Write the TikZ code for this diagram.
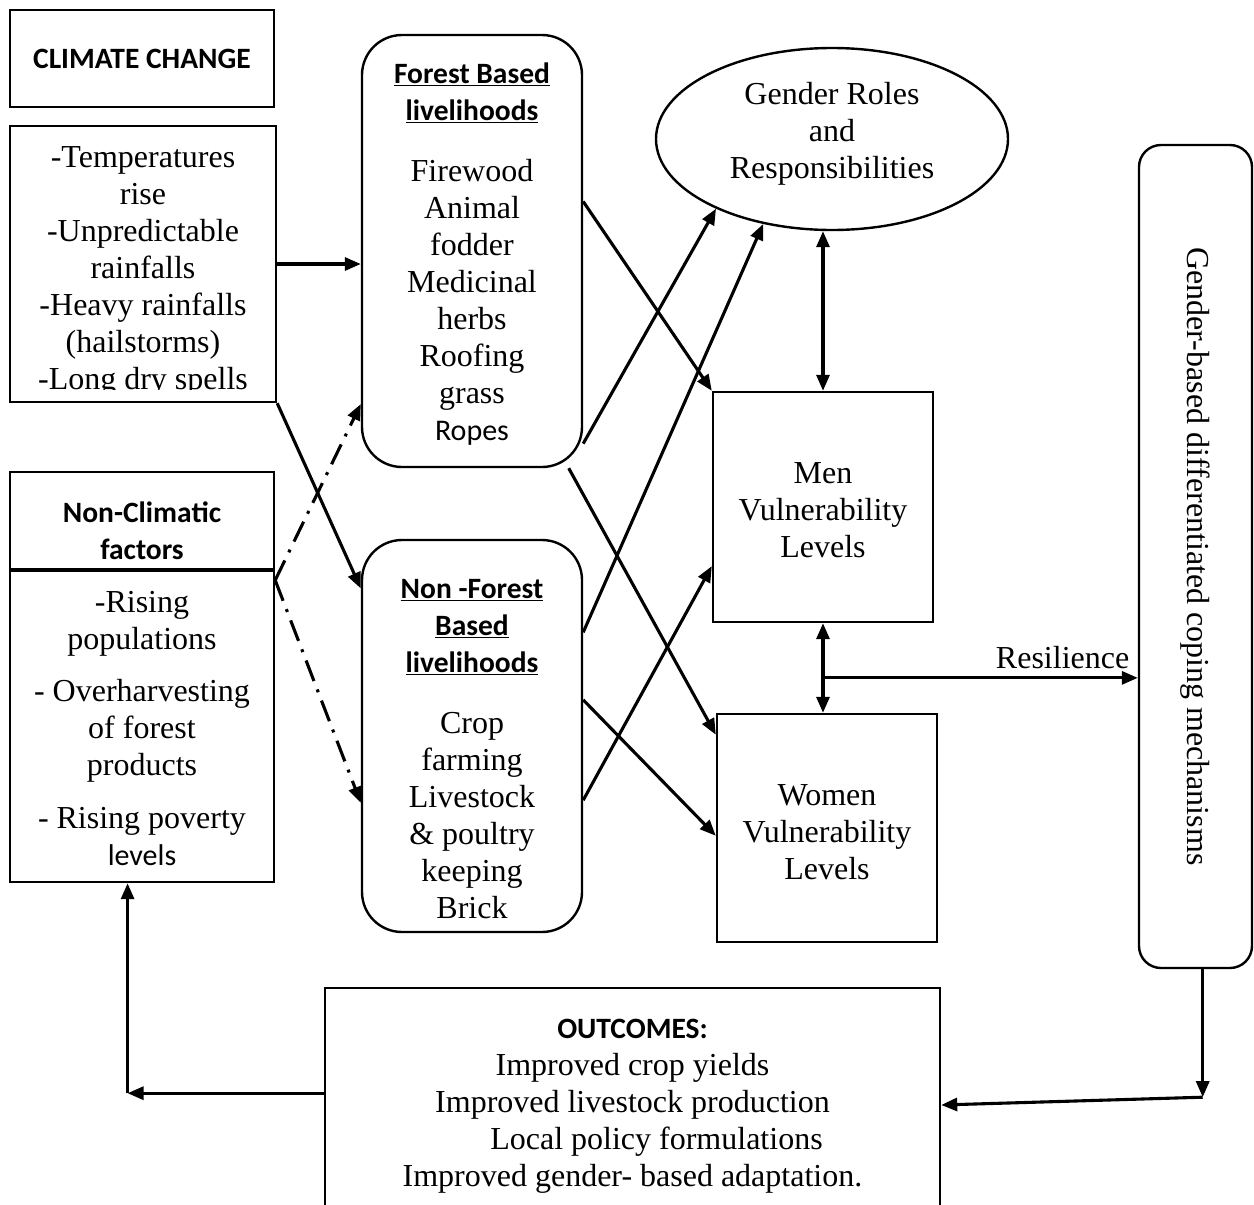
\documentclass[tikz,border=0pt]{standalone}
\usepackage{fontspec}
\setmainfont{Liberation Serif}
\newfontfamily\calfont{Carlito}
\usepackage{graphicx}
\usetikzlibrary{arrows.meta,shapes.geometric}
\newcommand\bodysize{\fontsize{32}{37}\selectfont}
\newcommand\headfont{\calfont\bfseries\fontsize{29.5}{37}\selectfont}
\newcommand\calsize{\calfont\fontsize{30}{37}\selectfont}
\tikzset{
  plainbox/.style={rectangle,draw,line width=2.4pt,inner sep=0pt},
  roundbox/.style={plainbox,rounded corners=40pt},
  boxtext/.style={align=center,font=\bodysize,inner sep=0pt},
  flow/.style={-{Triangle[length=16pt,width=13pt]},line width=3.1pt},
  flowboth/.style={{Triangle[length=16pt,width=13pt]}-{Triangle[length=16pt,width=13pt]},line width=3.1pt},
  dashflow/.style={flow,dash pattern=on 22pt off 9pt on 3pt off 9pt},
  divider/.style={line width=3.8pt}
}

\begin{document}
\begin{tikzpicture}[
  x=1pt,y=-1pt,
  roleellipse/.style={ellipse,draw,line width=2.4pt,inner sep=0pt,
    minimum width=352pt,minimum height=182pt},
  levelbox/.style={plainbox,minimum width=220pt},
  copingbox/.style={plainbox,rounded corners=22pt,minimum width=113pt,minimum height=823pt},
  reslabel/.style={font=\bodysize,inner sep=3pt,xshift=-4pt,yshift=5pt}
]
\useasboundingbox (0,0) rectangle (1254,1205);

% 1. Clima y factores no climaticos
\node[plainbox,minimum width=264pt,minimum height=97pt] (clim) at (142,58.5) {};
\node[boxtext] (climtext) at (clim.center) {\headfont CLIMATE CHANGE};

\node[plainbox,minimum width=266pt,minimum height=276pt] (cfac) at (143,264) {};
\begin{scope}
  \clip (cfac.north west) rectangle (cfac.east |- 0,389);
  \node[boxtext] (cfactext) at ([yshift=-7pt]cfac.center)
    {-Temperatures\\rise\\-Unpredictable\\rainfalls\\-Heavy rainfalls\\(hailstorms)\\-Long dry spells};
\end{scope}

\node[plainbox,minimum width=264pt,minimum height=410pt] (ncf) at (142,677) {};
\node[boxtext] (ncftext) at ([yshift=-7pt]ncf.center)
  {{\headfont Non-Climatic}\\{\headfont factors}\\[16pt]-Rising\\populations\\[15pt]%
   - Overharvesting\\of forest\\products\\[16pt]- Rising poverty\\{\calsize levels}};
\draw[divider] (ncf.west |- 0,570) -- (ncf.east |- 0,570);

% 2. Medios de vida
\node[roundbox,minimum width=220pt,minimum height=432pt] (fbl) at (472,251) {};
\node[boxtext] (fbltext) at ([yshift=-3pt]fbl.center)
  {{\headfont\underline{Forest Based}}\\{\headfont\underline{livelihoods}}\\[24pt]%
   Firewood\\Animal\\fodder\\Medicinal\\herbs\\Roofing\\grass\\{\calsize Ropes}};
\node[roundbox,minimum width=220pt,minimum height=392pt] (nfbl) at (472,736) {};
\node[boxtext] (nfbltext) at ([yshift=-13pt]nfbl.center)
  {{\headfont\underline{Non -Forest}}\\{\headfont\underline{Based}}\\{\headfont\underline{livelihoods}}\\[24pt]%
   Crop\\farming\\Livestock\\\& poultry\\keeping\\Brick};

\draw[flow] (cfac.east) -- (cfac.east -| fbl.west);
\draw[flow] (cfac.south east) -- (nfbl.127);
\draw[dashflow] (ncf.36) -- (fbl.234);
\draw[dashflow] (ncf.36) -- (nfbl.211);

% 3. Roles de genero y vulnerabilidad
\node[roleellipse] (gr) at (832,139) {};
\node[boxtext] (grtext) at ([yshift=5pt]gr.center) {Gender Roles\\and\\Responsibilities};
\node[levelbox,minimum height=230pt] (men) at (823,507) {};
\node[boxtext] (mentext) at ([yshift=-3pt]men.center) {Men\\Vulnerability\\Levels};
\node[levelbox,minimum height=228pt] (women) at (827,828) {};
\node[boxtext] (womentext) at ([yshift=-4pt]women.center) {Women\\Vulnerability\\Levels};

\draw[flow] (fbl.24) -- (men.north west);
\draw[flow] (fbl.300) -- (gr.211);
\draw[flow] (fbl.294) -- (women.140);
\draw[flow] (nfbl.43) -- (gr.231);
\draw[flow] (nfbl.18) -- (women.184);
\draw[flow] (nfbl.330) -- (men.208);
\draw[flowboth] (men.north |- gr.south) -- (men.north);
\draw[flowboth] (men.south) -- (men.south |- women.north);

% 4. Mecanismos de afrontamiento
\node[copingbox] (coping) at (1195.5,556.5) {};
\node[boxtext] (copingtext) at (coping.center)
  {\rotatebox{-90}{Gender-based differentiated coping mechanisms}};
\path (men.south) -- (men.south |- women.north) coordinate[pos=0.61] (rj);
\draw[flow] (rj) -- (rj -| coping.west) node[reslabel,pos=1,above left] {Resilience};

% 5. Resultados y retroalimentacion
\node[plainbox,minimum width=615pt,minimum height=226pt] (outcomes) at (632.5,1101) {};
\node[boxtext] (outcomestext) at ([yshift=-5pt]outcomes.center)
  {{\headfont OUTCOMES:}\\Improved crop yields\\Improved livestock production\\%
   \hspace*{48pt}Local policy formulations\\Improved gender- based adaptation.};

\coordinate (cj) at ([yshift=-128pt]coping.271);
\coordinate (lj) at ([yshift=-210pt]ncf.266);
\draw[flow] (coping.271) -- (cj);
\draw[flow] (cj) -- ([yshift=-4pt]outcomes.east);
\draw[flow] (outcomes.west |- lj) -- (lj);
\draw[flow] (lj) -- (ncf.266);

\end{tikzpicture}
\end{document}
